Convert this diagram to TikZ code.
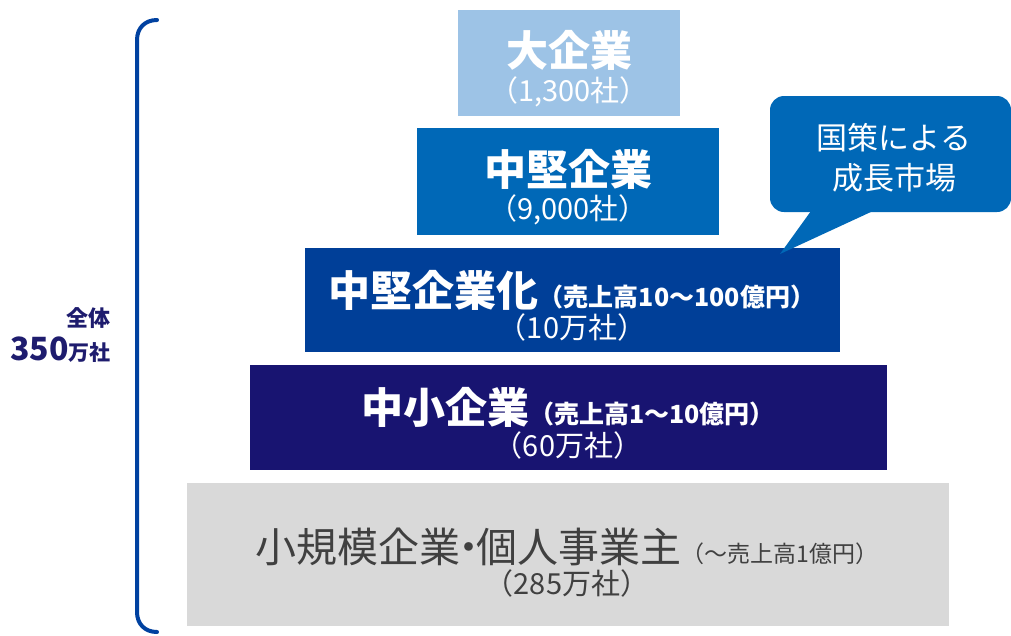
\documentclass[tikz,border=0pt]{standalone}
\usepackage{fontspec}
\setmainfont{Noto Sans CJK JP}
\definecolor{cA}{HTML}{9DC3E6}
\definecolor{cB}{HTML}{0068B7}
\definecolor{cC}{HTML}{003F98}
\definecolor{cD}{HTML}{181471}
\definecolor{cE}{HTML}{D9D9D9}
\definecolor{cBrace}{HTML}{0041A0}
\definecolor{cLabel}{HTML}{1E1C6E}
\definecolor{cGray}{HTML}{404040}
\newcommand{\bigt}{\fontsize{42}{50}\selectfont\bfseries}
\newcommand{\midt}{\fontsize{25}{30}\selectfont\bfseries}
\newcommand{\subt}{\fontsize{29}{34}\selectfont}
\begin{document}
\begin{tikzpicture}[x=1pt,y=-1pt,
  tier/.style={inner sep=0pt, outer sep=0pt, anchor=north west, draw=none},
  ttl/.style={inner sep=0pt, anchor=center, text=white},
  brace/.style={draw=cBrace, line width=4pt, line cap=round}]
\useasboundingbox (0,0) rectangle (1011,635);
% tiers
\node[tier, fill=cA, minimum width=222pt, minimum height=106pt] (b1) at (458,10) {};
\node[tier, fill=cB, minimum width=302pt, minimum height=107pt] (b2) at (417,128) {};
\node[tier, fill=cC, minimum width=535pt, minimum height=104pt] (b3) at (305,248) {};
\node[tier, fill=cD, minimum width=637pt, minimum height=105pt] (b4) at (250,365) {};
\node[tier, fill=cE, minimum width=762pt, minimum height=143pt] (b5) at (187,483) {};
% texts
\node[ttl] (t1a) at (569,50) {\bigt 大企業};
\node[ttl] (t1b) at (569,92) {\subt （1,300社）};
\node[ttl] (t2a) at (568,169) {\bigt 中堅企業};
\node[ttl] (t2b) at (568,210) {\subt （9,000社）};
\node[ttl] (t3a) at (572,290) {\bigt 中堅企業化\midt （売上高10～100億円）};
\node[ttl] (t3b) at (572,327) {\subt （10万社）};
\node[ttl] (t4a) at (568,407) {\bigt 中小企業\midt （売上高1～10億円）};
\node[ttl] (t4b) at (568,445) {\subt （60万社）};
\node[ttl, text=cGray] (t5a) at (567,547) {\fontsize{41}{48}\selectfont 小規模企業\kern-0.3em・\kern-0.3em個人事業主\fontsize{23}{27}\selectfont （～売上高1億円）};
\node[ttl, text=cGray] (t5b) at (567,583) {\subt （285万社）};
% brace
\draw[brace] (157,20) .. controls (145,20) and (137,28) .. (137,40) -- (137,612) .. controls (137,624) and (145,632) .. (157,632);
% label
\node[inner sep=0pt, anchor=east, text=cLabel] (l1) at (111,318) {\fontsize{22}{26}\selectfont\bfseries 全体};
\node[inner sep=0pt, anchor=east, text=cLabel] (l2) at (111,350) {\bfseries\fontsize{32}{36}\selectfont 350\fontsize{21}{26}\selectfont 万社};
% callout
\fill[cB, rounded corners=14pt] (770,96) rectangle (1011,212);
\fill[cB] (811,211) -- (780,254) -- (873,211) -- cycle;
\node[ttl, align=center, font=\fontsize{31}{40}\selectfont] (co) at (894,158) {国策による\\成長市場};
\end{tikzpicture}
\end{document}
